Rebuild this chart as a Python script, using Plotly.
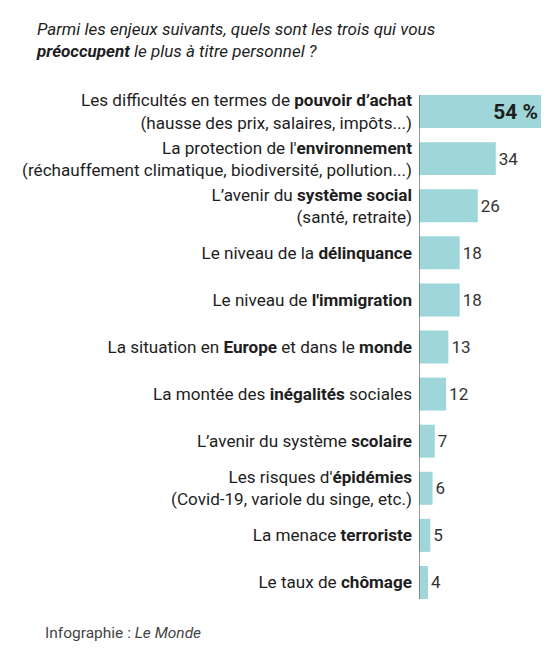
import plotly.graph_objects as go

# survey answers, top to bottom
labels = [
    "Les difficultés en termes de <b>pouvoir d’achat</b><br>(hausse des prix, salaires, impôts...)",
    "La protection de l'<b>environnement</b><br>(réchauffement climatique, biodiversité, pollution...)",
    "L’avenir du <b>système social</b><br>(santé, retraite)",
    "Le niveau de la <b>délinquance</b>",
    "Le niveau de <b>l'immigration</b>",
    "La situation en <b>Europe</b> et dans le <b>monde</b>",
    "La montée des <b>inégalités</b> sociales",
    "L’avenir du système <b>scolaire</b>",
    "Les risques d'<b>épidémies</b><br>(Covid-19, variole du singe, etc.)",
    "La menace <b>terroriste</b>",
    "Le taux de <b>chômage</b>",
]
values = [54, 34, 26, 18, 18, 13, 12, 7, 6, 5, 4]
value_text = ["<b>54 %</b>"] + [str(v) for v in values[1:]]

# page body adds 8px around the figure, so the figure is a bit smaller
W, H = 540, 644
ML, MR, MT, MB = 411, 7, 80, 46
BARGAP = 0.3
FONT = "Roboto"
TXT = "#1e1e1e"
BAR = "#9fd6d9"

ypos = list(range(len(labels)))

fig = go.Figure()
fig.add_trace(go.Bar(
    x=values,
    y=ypos,
    orientation="h",
    marker=dict(color=BAR, line=dict(width=0)),
    text=value_text,
    textposition=["inside"] + ["outside"] * (len(values) - 1),
    insidetextanchor="end",
    insidetextfont=dict(family=FONT, size=21, color=TXT),
    outsidetextfont=dict(family=FONT, size=17, color="#333333"),
    cliponaxis=False,
    hoverinfo="skip",
))

# thin vertical axis line spanning the bars
half = (1 - BARGAP) / 2
fig.add_shape(type="line", xref="x", yref="y",
              x0=0, x1=0, y0=-half, y1=len(labels) - 1 + half,
              line=dict(color="#555555", width=1.2))

plot_w = W - ML - MR
fig.add_annotation(
    text="Infographie : <i>Le Monde</i>",
    xref="paper", yref="paper",
    x=(35 - ML) / plot_w, y=-(625 - (H - MB)) / (H - MT - MB),
    xanchor="left", yanchor="middle", showarrow=False,
    font=dict(family=FONT, size=15.5, color="#444444"),
)

fig.update_layout(
    width=W, height=H,
    margin=dict(l=ML, r=MR, t=MT, b=MB),
    paper_bgcolor="white", plot_bgcolor="white",
    bargap=BARGAP,
    showlegend=False,
    font=dict(family=FONT, color=TXT),
    title=dict(
        text="<i>Parmi les enjeux suivants, quels sont les trois qui vous<br>"
             "<b>préoccupent</b> le plus à titre personnel ?</i>",
        x=29 / W, xanchor="left", y=1 - 27 / H, yanchor="middle",
        font=dict(family=FONT, size=17, color=TXT),
    ),
    xaxis=dict(range=[0, max(values)], visible=False, fixedrange=True),
    yaxis=dict(
        tickmode="array", tickvals=ypos, ticktext=labels,
        autorange="reversed", showgrid=False, zeroline=False, showline=False,
        ticks="", ticklabelstandoff=6, automargin=False,
        tickfont=dict(family=FONT, size=17.1, color=TXT),
        fixedrange=True,
    ),
)

fig.write_html("out.html")
